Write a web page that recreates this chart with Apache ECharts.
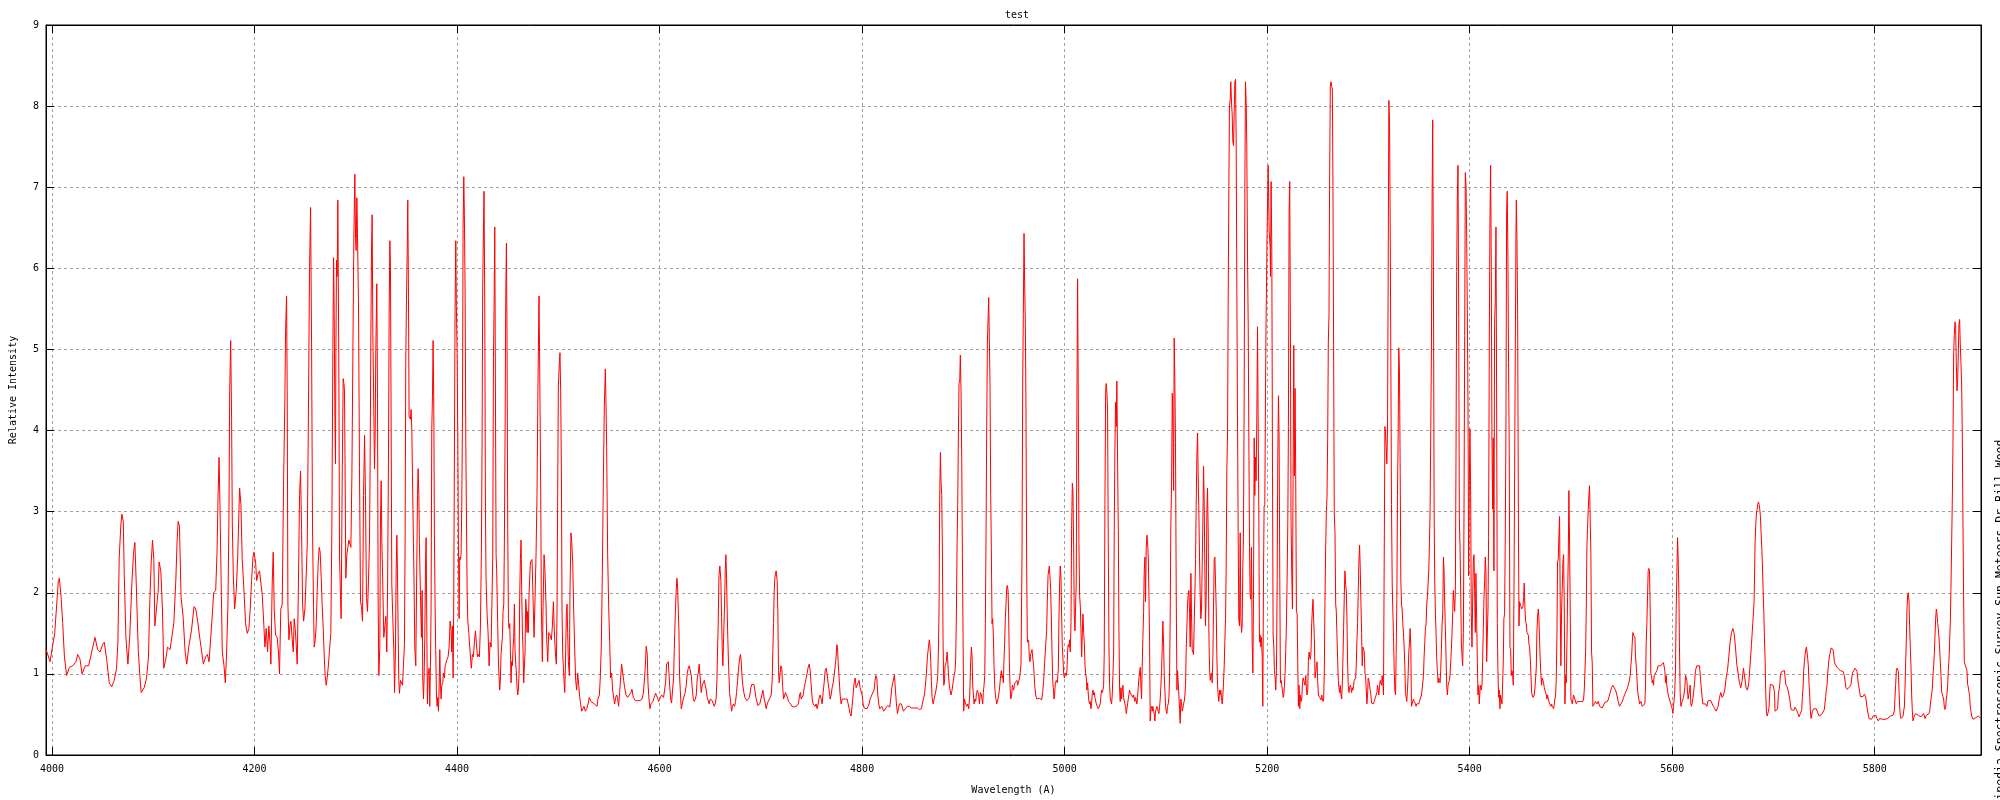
<!DOCTYPE html>
<html>
<head>
<meta charset="utf-8">
<script src="https://cdn.jsdelivr.net/npm/echarts@6/dist/echarts.min.js"></script>
<style>
html,body{margin:0;padding:0;background:#fff;}
#chart{width:2000px;height:800px;}
</style>
</head>
<body>
<div id="chart"></div>
<script>
const chartTitle = 'test';
const xAxisName = 'Wavelength (A)';
const yAxisName = 'Relative Intensity';
const sideNote = 'Wikipedia Spectroscopic Survey Sun Meteors Dr Bill Wood';
const xRange = [3994, 5905];
const yRange = [0, 9];

// [wavelength (A), relative intensity]
const seg4000 = [[3994.1,1.30],[3998.0,1.15],[4000.7,1.36],[4002.6,1.50],[4004.6,1.86],[4006.2,2.15],[4007.2,2.18],[4008.9,1.95],[4010.5,1.62],[4012.2,1.21],[4014.4,0.98],[4017.1,1.08],[4020.4,1.10],[4023.6,1.15],[4025.3,1.24],[4027.6,1.18],[4029.6,1.00],[4032.8,1.10],[4036.1,1.10],[4039.1,1.27],[4042.4,1.45],[4045.0,1.30],[4047.3,1.27],[4049.9,1.36],[4051.6,1.39],[4053.9,1.18],[4056.5,0.89],[4058.8,0.84],[4061.4,0.92],[4063.7,1.07],[4065.0,1.39],[4066.3,2.44],[4068.0,2.85],[4069.0,2.97],[4070.3,2.88],[4071.3,2.21],[4072.9,1.45],[4074.9,1.12],[4076.8,1.48],[4078.8,2.12],[4080.5,2.50],[4081.8,2.62],[4083.1,2.12],[4085.1,1.30],[4086.7,0.98],[4088.0,0.77],[4091.0,0.83],[4093.3,0.95],[4095.2,1.21],[4096.6,1.92],[4097.9,2.38],[4099.2,2.65],[4100.5,2.41],[4101.5,1.59],[4103.4,1.59],[4104.8,2.03],[4105.7,2.38],[4107.4,2.27],[4109.0,1.80],[4110.3,1.07],[4112.3,1.18],[4114.0,1.33],[4116.6,1.30],[4118.2,1.45],[4120.2,1.62],[4122.2,2.15],[4123.5,2.65],[4124.5,2.88],[4125.8,2.82],[4127.4,1.95],[4129.4,1.71],[4131.4,1.27],[4133.0,1.12],[4135.3,1.36],[4137.6,1.53],[4140.2,1.83],[4141.9,1.80],[4143.8,1.65],[4145.8,1.45],[4147.8,1.27],[4149.4,1.12],[4151.7,1.21],[4153.4,1.24],[4155.0,1.15],[4156.7,1.45],[4158.3,1.74],[4159.6,2.00],[4161.6,2.03],[4162.9,2.50],[4163.9,3.18],[4164.9,3.67],[4165.8,3.09],[4167.2,1.95],[4168.1,1.27],[4169.8,1.10],[4171.1,0.89],[4172.4,1.27],[4173.7,1.86],[4174.7,2.97],[4175.4,4.49],[4176.4,5.11],[4177.3,4.14],[4178.0,2.85],[4179.0,2.21],[4180.3,1.80],[4181.9,2.03],[4183.3,2.44],[4184.6,3.03],[4185.2,3.29],[4186.5,3.09],[4187.8,2.41],[4189.5,2.03],[4191.1,1.62],[4192.8,1.50],[4194.4,1.56],[4195.7,1.80],[4197.0,2.15],[4198.4,2.44],[4199.3,2.50],[4201.0,2.38],[4202.0,2.15],[4203.6,2.24],[4204.9,2.27],[4206.2,2.12],[4207.6,1.97],[4209.2,1.59],[4210.2,1.33],[4211.5,1.56],[4212.8,1.27],[4214.1,1.59],[4215.4,1.36],[4216.1,1.12],[4217.4,2.12],[4218.4,2.50],[4219.4,1.80],[4220.7,1.48],[4222.3,1.45],[4223.6,1.27],[4224.6,1.00],[4225.9,1.80],[4227.3,1.86],[4228.6,3.32],[4229.9,4.38]];

const seg4230 = [[4230.6,5.23],[4231.6,5.66],[4232.2,4.49],[4232.9,1.86],[4233.9,1.42],[4234.9,1.59],[4235.9,1.65],[4237.2,1.42],[4238.2,1.27],[4239.1,1.68],[4240.1,1.56],[4241.1,1.36],[4242.1,1.12],[4243.1,1.92],[4244.4,3.20],[4245.4,3.50],[4246.4,2.77],[4247.4,1.86],[4248.4,1.65],[4249.7,1.80],[4250.7,2.12],[4252.0,2.59],[4253.0,3.97],[4254.3,6.02],[4255.3,6.75],[4256.3,5.02],[4257.2,2.82],[4258.2,1.83],[4258.9,1.33],[4259.9,1.42],[4260.9,1.62],[4261.8,2.00],[4262.8,2.36],[4263.8,2.56],[4264.8,2.50],[4265.8,2.18],[4266.8,1.83],[4267.8,1.56],[4268.8,1.21],[4269.7,0.98],[4270.7,0.86],[4271.7,0.95],[4273.0,1.12],[4274.0,1.30],[4275.3,1.50],[4276.3,2.79],[4277.3,4.96],[4278.0,6.13],[4278.6,5.49],[4279.3,4.23],[4279.9,3.59],[4280.3,4.96],[4280.9,6.10],[4281.6,5.90],[4282.2,6.84],[4283.2,4.76],[4283.9,2.44],[4284.9,1.92],[4285.5,1.68],[4286.5,3.38],[4287.5,4.64],[4288.2,4.58],[4288.8,4.49],[4289.5,3.29],[4290.1,2.18],[4291.1,2.47],[4292.1,2.56],[4293.1,2.65],[4294.1,2.65],[4295.1,2.56],[4296.1,3.44],[4297.0,4.84],[4298.0,6.34],[4299.0,7.16],[4299.7,6.37],[4300.3,6.22],[4301.0,6.87],[4301.6,6.43],[4302.6,5.60],[4303.6,3.53],[4304.6,1.89],[4305.6,1.83],[4306.6,1.65],[4307.6,3.20],[4308.6,3.94],[4309.5,3.20],[4310.5,1.94],[4311.5,1.77],[4312.5,2.15],[4313.5,2.65],[4314.1,3.56],[4314.8,5.11],[4315.5,6.25],[4316.1,6.66],[4316.8,5.20],[4317.8,4.20],[4318.4,3.53],[4319.1,3.97],[4319.7,4.96],[4320.7,5.81],[4321.4,4.38],[4322.0,1.97],[4322.7,0.98],[4323.7,1.33],[4324.3,2.85],[4325.0,3.38],[4325.7,2.62],[4326.6,2.12],[4327.6,1.45],[4328.6,1.45],[4329.6,1.71],[4330.6,1.27],[4331.3,2.00],[4332.2,3.59],[4332.9,5.43],[4333.6,6.34],[4334.2,6.02],[4334.9,3.97],[4335.5,2.12],[4336.5,1.68],[4337.5,1.30],[4338.2,0.77],[4339.1,1.27],[4339.8,2.27],[4340.5,2.71],[4341.1,2.27],[4341.8,1.51],[4342.4,0.92],[4343.1,0.76],[4344.1,0.92],[4345.1,0.89],[4346.1,0.86],[4347.0,1.10],[4348.0,1.36],[4348.7,2.74],[4349.3,4.84],[4350.0,5.60],[4350.7,6.19],[4351.3,6.84],[4352.0,5.64],[4352.6,4.17],[4353.3,4.17],[4353.9,4.14],[4354.6,4.26],[4355.3,4.00],[4355.9,3.47],[4356.9,2.62],[4357.6,2.03],[4358.2,1.33],[4359.2,1.10],[4359.9,1.97],[4360.9,3.20],[4361.5,3.53],[4362.2,3.23],[4362.8,2.62],[4363.8,1.97],[4364.8,1.45],[4365.5,2.03],[4366.1,0.92],[4366.8,0.69],[4367.4,0.95],[4368.1,1.45],[4368.8,2.33],[4369.4,2.68],[4370.1,1.56],[4370.7,0.63],[4371.4,0.98],[4372.4,1.07],[4373.0,0.60],[4373.7,1.10],[4374.3,1.80],[4375.0,4.02],[4375.7,4.43],[4376.3,5.11],[4377.0,4.29],[4377.6,2.71],[4378.3,1.80],[4378.9,1.30],[4379.6,0.74],[4380.3,0.60],[4380.9,0.71],[4381.6,0.54],[4382.2,0.80],[4382.9,1.30],[4383.6,0.86],[4384.2,0.69],[4384.9,0.86],[4385.9,0.89],[4386.5,1.01],[4387.5,0.95],[4388.2,1.10],[4389.1,1.10],[4390.1,1.18],[4391.1,1.21],[4392.1,1.33],[4393.1,1.65],[4394.1,1.53],[4394.7,1.27],[4395.4,1.59],[4396.1,0.95],[4396.7,1.97],[4397.4,3.82],[4398.0,5.49],[4398.7,6.34],[4399.3,5.52],[4400.0,4.96],[4400.7,3.91],[4401.3,2.65],[4402.0,1.68],[4402.6,2.44],[4403.3,2.41],[4403.9,2.47],[4404.6,3.06],[4405.3,4.14],[4405.9,6.49],[4406.6,7.13],[4407.2,6.66],[4407.9,5.72],[4408.6,3.85],[4409.2,2.97],[4409.9,2.06],[4410.5,1.68],[4411.5,1.51],[4412.5,1.33],[4413.5,1.15],[4414.1,1.07],[4415.1,1.24],[4416.1,1.21],[4417.1,1.39],[4418.1,1.53],[4419.1,1.51],[4420.1,1.21],[4421.1,1.24],[4422.0,1.21],[4423.0,1.56],[4424.0,2.50],[4424.7,3.91],[4425.3,5.78],[4426.0,6.46],[4426.6,6.95],[4427.3,5.60],[4428.0,3.00],[4428.6,2.18],[4429.6,1.74],[4430.6,1.51],[4431.6,1.10],[4432.6,1.39],[4433.6,1.33],[4434.5,1.33],[4435.2,2.44],[4435.9,4.90],[4436.5,5.49],[4437.2,6.51],[4437.8,4.70],[4438.5,2.47],[4439.1,2.27],[4440.1,1.62],[4440.8,1.15],[4441.4,0.98],[4442.1,0.80],[4442.8,0.95],[4443.4,1.24],[4444.1,1.36],[4444.7,1.45],[4445.4,1.77],[4446.1,1.86],[4446.7,2.62],[4447.4,4.02],[4448.0,5.55],[4448.7,6.31],[4449.3,5.17],[4450.0,2.79],[4450.7,1.68],[4451.3,1.56],[4452.0,1.62],[4452.6,1.30],[4453.3,0.89],[4453.9,1.15],[4454.6,1.10],[4455.3,1.33],[4455.9,1.45],[4456.6,1.86],[4457.2,1.30],[4457.9,1.12],[4458.6,1.01],[4459.2,0.83],[4459.9,0.74],[4460.5,0.80],[4461.2,1.01],[4461.8,1.94],[4462.5,2.41],[4463.2,2.65],[4463.8,2.03],[4464.5,1.53],[4465.1,1.30],[4465.8,0.89],[4466.4,1.07],[4467.1,1.27],[4467.8,1.92],[4468.4,1.80],[4469.1,1.51],[4469.7,1.77],[4470.4,1.51],[4471.1,2.00]];

const seg4470 = [[4472.4,2.38],[4474.0,2.41],[4475.3,2.41],[4476.0,1.45],[4477.0,1.94],[4478.0,2.50],[4478.9,3.20],[4479.9,4.61],[4480.9,5.66],[4481.6,4.76],[4482.6,3.18],[4483.2,1.83],[4484.2,1.15],[4484.9,1.83],[4485.9,2.47],[4486.8,2.27],[4487.8,1.86],[4488.5,1.42],[4489.5,1.15],[4490.5,1.51],[4491.8,1.48],[4493.1,1.42],[4494.1,1.59],[4495.1,1.89],[4496.0,1.53],[4497.0,1.27],[4498.0,1.12],[4498.7,1.80],[4499.3,3.15],[4500.0,4.55],[4501.0,4.84],[4501.6,4.96],[4502.3,4.49],[4503.0,3.50],[4503.6,1.80],[4504.3,1.24],[4504.9,1.10],[4505.6,0.92],[4506.3,0.77],[4506.9,1.04],[4507.9,1.74],[4508.6,1.86],[4509.2,1.51],[4509.9,1.15],[4510.9,0.98],[4511.5,2.03],[4512.5,2.74],[4513.2,2.62],[4514.2,2.38],[4515.1,1.80],[4516.1,1.33],[4517.1,0.92],[4518.1,0.80],[4519.1,1.01],[4520.1,0.86],[4521.1,0.71],[4522.0,0.63],[4523.0,0.54],[4524.0,0.54],[4525.3,0.60],[4526.6,0.54],[4528.0,0.57],[4529.3,0.63],[4530.6,0.71],[4532.2,0.66],[4533.9,0.66],[4535.5,0.63],[4537.2,0.63],[4538.2,0.60],[4539.1,0.69],[4540.5,0.74],[4541.4,0.95],[4542.4,1.33],[4543.4,2.21],[4544.4,3.32],[4545.4,4.29],[4546.4,4.76],[4547.0,4.38],[4547.7,3.79],[4548.7,2.47],[4549.7,1.83],[4550.7,1.39],[4551.6,0.95],[4552.6,1.01],[4553.6,0.80],[4554.6,0.71],[4555.6,0.63],[4556.6,0.71],[4557.6,0.74],[4558.6,0.69],[4559.5,0.60],[4560.5,0.77],[4561.5,0.95],[4562.5,1.12],[4563.5,1.10],[4564.5,0.92],[4565.5,0.83],[4566.8,0.74],[4568.4,0.71],[4570.1,0.74],[4571.7,0.77],[4572.7,0.81],[4574.0,0.71],[4576.0,0.67],[4578.3,0.67],[4580.6,0.67],[4582.6,0.69],[4583.9,0.76],[4585.2,0.95],[4586.2,1.18],[4586.8,1.34],[4587.8,1.24],[4588.5,0.89],[4589.5,0.69],[4590.5,0.57],[4591.4,0.63],[4592.4,0.64],[4593.4,0.66],[4594.7,0.71],[4596.1,0.76],[4597.0,0.73],[4598.0,0.70],[4599.0,0.66],[4600.0,0.69],[4601.0,0.71],[4602.0,0.74],[4603.0,0.74],[4603.9,0.71],[4604.9,0.69],[4605.9,0.89],[4606.9,1.12],[4607.6,1.12],[4608.6,1.15],[4609.2,1.01],[4609.9,0.86],[4610.9,0.69],[4611.8,0.64],[4612.8,0.80],[4613.8,0.95],[4614.5,1.30],[4615.5,1.74],[4616.4,2.03],[4617.1,2.18],[4617.8,2.06],[4618.4,1.80],[4619.1,1.53],[4619.7,0.98],[4620.4,0.80],[4621.4,0.57],[4622.4,0.63],[4623.4,0.69],[4624.3,0.71],[4625.3,0.77],[4626.3,0.86],[4627.3,1.01],[4628.3,1.07],[4629.3,1.10],[4630.3,1.10],[4631.3,0.98],[4632.2,0.83],[4633.2,0.69],[4634.2,0.66],[4635.2,0.69],[4636.2,0.74],[4637.2,0.95],[4638.2,1.01],[4639.1,1.12],[4640.1,0.95],[4641.1,0.77],[4642.1,0.86],[4643.1,0.89],[4644.1,0.92],[4645.1,0.86],[4646.1,0.80],[4647.0,0.71],[4648.0,0.70],[4649.0,0.63],[4650.0,0.69],[4651.0,0.71],[4652.0,0.67],[4653.0,0.63],[4653.9,0.60],[4654.9,0.63],[4655.9,0.71],[4656.6,0.92],[4657.2,1.27],[4657.9,1.65],[4658.6,2.21],[4659.5,2.33],[4660.5,2.15],[4661.2,1.71],[4661.8,1.33],[4662.5,1.10],[4663.2,1.45],[4664.1,1.83],[4664.8,2.27],[4665.5,2.47],[4666.1,2.18],[4666.8,1.74],[4667.4,1.42],[4668.1,1.10],[4669.1,0.77],[4670.1,0.66],[4671.1,0.54],[4672.0,0.60],[4673.0,0.63],[4674.0,0.60],[4675.0,0.66],[4676.0,0.77],[4677.0,0.92],[4678.0,1.07],[4678.9,1.18],[4679.9,1.24],[4680.6,1.15],[4681.3,0.98],[4682.2,0.86],[4683.2,0.77],[4684.2,0.71],[4685.2,0.70],[4686.2,0.67],[4687.2,0.66],[4688.2,0.70],[4689.1,0.74],[4690.1,0.83],[4691.1,0.87],[4692.1,0.89],[4693.1,0.87],[4694.1,0.80],[4695.1,0.71],[4696.1,0.66],[4697.0,0.61],[4698.0,0.60],[4699.0,0.63],[4700.0,0.69],[4701.0,0.74],[4702.0,0.80],[4702.6,0.76],[4703.3,0.69],[4704.3,0.64],[4705.3,0.57],[4706.3,0.63],[4707.2,0.66],[4708.2,0.67],[4709.2,0.71],[4710.2,0.74],[4711.2,0.92],[4711.8,1.27],[4712.5,1.62],[4713.2,2.03],[4713.8,2.18],[4714.5,2.24]];

const seg4715 = [[4715.1,2.27],[4716.1,2.15],[4716.8,1.74],[4717.4,1.04],[4718.1,0.89],[4718.8,0.98],[4719.7,1.10],[4720.7,1.07],[4721.4,0.86],[4722.4,0.69],[4723.4,0.71],[4724.3,0.77],[4725.3,0.77],[4726.3,0.71],[4727.3,0.66],[4728.3,0.65],[4729.3,0.63],[4730.6,0.60],[4731.9,0.59],[4733.2,0.59],[4734.5,0.59],[4735.9,0.61],[4737.2,0.64],[4738.2,0.74],[4739.1,0.77],[4739.8,0.69],[4740.8,0.70],[4741.8,0.74],[4742.8,0.83],[4743.8,0.89],[4744.7,0.95],[4745.7,1.01],[4746.7,1.08],[4747.7,1.12],[4748.7,1.04],[4749.7,0.86],[4750.7,0.69],[4751.6,0.63],[4752.6,0.63],[4753.6,0.60],[4754.6,0.63],[4755.6,0.57],[4756.6,0.63],[4757.6,0.71],[4758.6,0.74],[4759.5,0.69],[4760.5,0.63],[4761.5,0.77],[4762.5,0.89],[4763.5,1.04],[4764.5,1.07],[4765.5,0.99],[4766.4,0.89],[4767.4,0.80],[4768.4,0.69],[4769.4,0.74],[4770.4,0.83],[4771.4,0.89],[4772.4,0.98],[4773.4,1.10],[4774.3,1.21],[4775.0,1.36],[4775.7,1.33],[4776.3,1.15],[4777.3,0.95],[4778.3,0.74],[4779.3,0.63],[4780.3,0.69],[4781.3,0.71],[4782.2,0.70],[4783.2,0.69],[4784.2,0.71],[4785.2,0.69],[4786.2,0.63],[4787.2,0.57],[4788.2,0.51],[4789.1,0.48],[4790.1,0.60],[4791.1,0.74],[4792.1,0.89],[4793.1,0.95],[4794.1,0.83],[4795.1,0.86],[4796.1,0.89],[4797.0,0.92],[4798.0,0.83],[4799.0,0.83],[4800.0,0.74],[4801.0,0.63],[4802.0,0.58],[4803.0,0.57],[4803.9,0.59],[4804.9,0.57],[4805.9,0.60],[4806.9,0.63],[4807.9,0.69],[4808.9,0.71],[4809.9,0.75],[4810.9,0.73],[4811.8,0.80],[4812.8,0.92],[4813.5,0.98],[4814.5,0.95],[4815.5,0.74],[4816.4,0.63],[4817.4,0.57],[4818.4,0.58],[4819.4,0.60],[4820.4,0.57],[4821.4,0.54],[4822.4,0.56],[4823.4,0.58],[4824.3,0.60],[4825.3,0.61],[4826.3,0.63],[4827.3,0.59],[4828.3,0.69],[4829.3,0.83],[4830.3,0.89],[4831.3,0.95],[4831.9,0.99],[4832.9,0.80],[4833.9,0.63],[4834.9,0.51],[4835.9,0.57],[4836.8,0.63],[4838.8,0.63],[4840.8,0.54],[4842.8,0.57],[4844.7,0.60],[4846.7,0.60],[4848.7,0.58],[4850.7,0.58],[4852.6,0.57],[4854.6,0.58],[4856.6,0.56],[4858.6,0.57],[4859.5,0.63],[4860.5,0.69],[4861.5,0.74],[4862.5,0.86],[4863.5,1.01],[4864.5,1.21],[4865.5,1.33],[4866.4,1.42],[4867.1,1.33],[4867.8,1.15],[4868.4,0.92],[4869.1,0.71],[4870.1,0.63],[4871.1,0.69],[4872.0,0.74],[4873.0,0.80],[4874.0,0.89],[4874.7,0.98],[4875.3,1.27],[4876.0,1.80],[4876.6,3.15],[4877.3,3.73],[4878.0,3.35],[4878.6,3.20],[4879.3,2.50],[4879.9,1.45],[4880.6,0.86],[4881.3,0.89],[4881.9,1.10],[4882.6,1.10],[4883.2,1.15],[4883.9,1.27],[4884.5,1.18],[4885.2,1.01],[4885.9,0.89],[4886.8,0.80],[4887.8,0.74],[4888.8,0.80],[4889.8,0.89],[4890.8,0.98],[4891.8,1.04],[4892.4,1.18],[4893.1,1.74],[4893.8,2.62],[4894.4,3.09],[4895.1,3.97],[4895.7,4.58],[4896.4,4.61],[4897.0,4.93],[4897.7,4.49],[4898.4,3.61],[4899.0,2.50],[4899.7,1.45],[4900.3,0.54],[4901.0,0.69],[4901.6,0.66],[4902.3,0.63],[4903.3,0.60],[4904.3,0.63],[4905.3,0.57],[4906.3,0.74],[4907.2,1.15],[4907.9,1.33],[4908.6,1.21],[4909.2,0.86],[4909.9,0.74],[4910.5,0.63],[4911.5,0.69],[4912.2,0.66],[4912.8,0.74],[4913.8,0.80],[4914.5,0.79],[4915.1,0.74],[4915.8,0.63],[4916.8,0.77],[4917.8,0.74],[4918.4,0.69],[4919.1,0.63],[4919.7,0.77],[4920.4,0.86],[4921.1,0.98],[4921.7,1.62],[4922.4,2.74],[4923.0,3.94],[4923.7,5.08],[4924.3,5.08],[4925.0,5.64],[4925.7,5.08],[4926.3,4.58],[4927.0,3.20],[4927.6,2.56],[4928.3,1.62],[4928.9,1.68],[4929.6,1.48],[4930.3,1.10],[4930.9,0.86],[4931.6,0.74],[4932.2,0.69],[4932.9,0.63],[4933.6,0.64],[4934.2,0.69],[4934.9,0.74],[4935.5,0.80],[4936.2,0.89],[4936.8,0.98],[4937.5,1.04],[4938.2,0.95],[4938.8,0.98],[4939.5,0.89],[4940.1,1.18],[4940.8,1.39],[4941.4,1.68],[4942.1,1.86],[4942.8,2.06],[4943.4,2.09],[4944.1,2.03],[4944.7,1.74],[4945.4,1.15],[4946.1,0.86],[4946.7,0.69],[4947.7,0.74],[4948.4,0.86],[4949.0,0.83],[4949.7,0.80],[4950.3,0.86],[4951.0,0.89],[4952.0,0.89],[4953.0,0.92],[4953.6,0.86],[4954.3,0.89],[4954.9,0.92],[4955.9,0.98],[4956.9,1.12]];

const seg4957 = [[4957.9,2.44],[4958.6,4.61],[4959.2,5.43],[4959.9,6.43],[4960.5,5.84],[4961.2,5.31],[4961.8,4.29],[4962.5,2.33],[4963.2,1.39],[4963.8,1.42],[4964.5,1.39],[4965.1,1.21],[4965.8,1.15],[4966.4,1.24],[4967.1,1.27],[4967.8,1.30],[4968.4,1.21],[4969.4,1.10],[4970.4,0.86],[4971.4,0.74],[4972.4,0.69],[4973.4,0.68],[4974.3,0.71],[4975.3,0.70],[4976.3,0.69],[4977.3,0.68],[4978.3,0.77],[4979.3,0.92],[4980.3,1.15],[4981.3,1.36],[4982.2,1.53],[4982.9,1.89],[4983.6,2.21],[4984.2,2.27],[4984.9,2.33],[4985.5,2.21],[4986.2,2.03],[4986.8,1.74],[4987.5,1.30],[4988.2,0.92],[4988.8,0.83],[4989.5,0.69],[4990.1,0.74],[4990.8,0.89],[4991.8,0.92],[4992.8,0.89],[4993.8,1.07],[4994.4,1.68],[4995.1,2.15],[4995.7,2.33],[4996.4,2.18],[4997.0,1.74],[4997.7,1.33],[4998.4,1.18],[4999.0,1.01],[4999.7,0.95],[5000.3,0.98],[5001.0,1.01],[5001.6,0.98],[5002.3,1.04],[5003.0,1.30],[5003.6,1.36],[5004.3,1.33],[5004.9,1.42],[5005.6,1.27],[5006.3,1.65],[5006.9,2.79],[5007.6,3.35],[5008.2,3.26],[5008.9,2.56],[5009.5,1.74],[5010.2,1.53],[5010.9,1.86],[5011.5,2.15],[5012.2,4.55],[5012.8,5.87],[5013.5,4.38],[5014.1,2.62],[5014.8,1.97],[5015.5,1.83],[5016.1,1.56],[5016.8,1.21],[5017.4,1.48],[5018.1,1.74],[5018.8,1.51],[5019.4,1.39],[5020.1,1.12],[5020.7,1.01],[5021.4,0.95],[5022.0,0.80],[5022.7,0.89],[5023.4,0.74],[5024.0,0.66],[5024.7,0.63],[5025.3,0.66],[5026.0,0.57],[5026.6,0.63],[5027.3,0.76],[5028.0,0.80],[5028.6,0.74],[5029.3,0.77],[5029.9,0.71],[5030.6,0.69],[5031.3,0.63],[5032.2,0.60],[5033.2,0.57],[5034.2,0.57],[5035.2,0.63],[5035.9,0.74],[5036.5,0.80],[5037.2,0.77],[5037.8,0.80],[5038.5,0.86],[5039.1,1.24],[5039.8,3.09],[5040.5,4.49],[5041.1,4.58],[5041.8,4.46],[5042.4,4.23],[5043.1,2.59],[5043.8,1.33],[5044.4,0.86],[5045.1,0.69],[5045.7,0.71],[5046.4,0.63],[5047.0,0.74],[5047.7,0.98],[5048.4,1.27],[5049.0,2.77],[5049.7,3.82],[5050.3,4.35],[5051.0,4.05],[5051.6,4.61],[5052.3,3.61],[5053.0,2.77],[5053.6,1.56],[5054.3,0.80],[5054.9,0.66],[5055.6,0.83],[5056.3,0.69],[5056.9,0.80],[5057.6,0.86],[5058.2,0.71],[5058.9,0.69],[5059.5,0.63],[5060.2,0.60],[5060.9,0.51],[5061.5,0.57],[5062.2,0.63],[5062.8,0.69],[5063.5,0.74],[5064.1,0.80],[5064.8,0.77],[5065.5,0.75],[5066.1,0.74],[5066.8,0.74],[5067.4,0.71],[5068.1,0.74],[5068.8,0.69],[5069.4,0.66],[5070.1,0.71],[5070.7,0.69],[5071.4,0.63],[5072.0,0.71],[5072.7,0.83],[5073.4,0.95],[5074.0,1.01],[5074.7,1.08],[5075.3,0.86],[5076.0,0.69],[5076.6,1.10],[5077.3,1.45],[5078.0,1.77],[5078.6,2.27],[5079.3,2.44],[5079.9,1.89],[5080.6,2.56],[5081.3,2.71],[5081.9,2.62],[5082.6,2.44],[5083.2,2.03],[5083.9,1.39],[5084.5,0.42],[5085.2,0.57],[5085.9,0.60],[5086.5,0.54],[5087.2,0.60],[5087.8,0.54],[5088.5,0.51],[5089.1,0.42],[5089.8,0.54],[5090.5,0.57],[5091.1,0.60],[5091.8,0.59],[5092.4,0.54],[5093.1,0.51],[5093.8,0.60],[5094.4,0.69],[5095.1,0.86],[5095.7,1.04],[5096.4,1.33],[5097.0,1.65],[5097.7,1.39],[5098.4,0.98],[5099.0,0.80],[5099.7,0.60],[5100.3,0.54],[5101.0,0.51],[5101.6,0.60],[5102.3,0.63],[5103.0,0.71],[5103.6,0.95],[5104.3,1.77],[5104.9,2.85],[5105.6,3.32],[5106.3,4.46],[5106.9,4.11],[5107.6,3.26],[5108.2,5.14],[5108.9,4.55],[5109.5,3.85],[5110.2,2.03],[5110.9,0.80],[5111.5,1.04],[5112.2,0.89],[5112.8,0.74],[5113.5,0.57],[5114.1,0.39],[5114.8,0.69],[5115.5,0.63],[5116.1,0.54],[5116.8,0.57],[5117.4,0.63],[5118.1,0.66],[5118.8,0.74],[5119.4,0.86],[5120.1,1.33],[5120.7,1.56],[5121.4,1.86],[5122.0,1.97],[5122.7,2.03],[5123.4,1.74],[5124.0,1.33],[5124.7,2.24],[5125.3,1.74],[5126.0,1.30],[5126.6,1.27],[5127.3,1.24],[5128.0,1.65],[5128.6,1.97],[5129.3,2.41],[5129.9,3.06],[5130.6,3.67],[5131.3,3.97],[5131.9,3.44],[5132.6,2.97],[5133.2,2.44],[5133.9,1.97],[5134.5,1.68],[5135.2,1.80],[5135.9,2.38],[5136.5,2.85],[5137.2,3.56],[5137.8,3.15],[5138.5,2.27],[5139.1,1.59],[5139.8,1.97],[5140.5,3.03],[5141.1,3.29],[5141.8,2.74],[5142.4,1.56],[5143.1,1.07],[5143.8,0.92],[5144.4,0.98],[5145.1,1.01],[5145.7,0.89],[5146.4,1.21],[5147.0,1.77],[5147.7,2.41],[5148.4,2.44],[5149.0,2.44],[5149.7,1.80],[5150.3,1.24],[5151.0,0.86],[5151.6,0.74],[5152.3,0.66],[5153.0,0.80],[5153.6,0.74],[5154.3,0.80],[5154.9,0.71],[5155.6,0.63],[5156.3,0.74],[5156.9,0.89],[5157.6,1.10],[5158.2,1.39],[5158.9,1.68],[5159.5,2.24],[5160.2,3.53],[5160.9,3.97],[5161.5,5.52],[5162.2,7.01],[5162.8,8.01],[5163.5,8.07],[5164.1,8.30],[5164.8,8.04],[5165.5,7.89],[5166.1,7.57],[5166.8,7.51],[5167.4,7.89],[5168.1,8.30],[5168.8,8.33],[5169.4,7.60],[5170.1,5.69],[5170.7,4.20],[5171.4,2.74],[5172.0,1.68],[5172.7,1.59],[5173.4,2.74],[5174.0,1.71],[5174.7,1.51],[5175.3,1.59],[5176.0,2.33],[5176.6,2.68],[5177.3,4.38],[5178.0,7.01],[5178.6,8.30],[5179.3,8.04],[5179.9,7.51],[5180.6,6.19],[5181.3,5.28],[5181.9,3.97],[5182.6,2.56],[5183.2,1.97],[5183.9,1.92],[5184.5,2.56],[5185.2,1.39],[5185.9,1.01],[5186.5,1.92],[5187.2,3.91],[5187.8,3.20],[5188.5,3.67],[5189.1,3.38],[5189.8,4.14],[5190.5,5.28],[5191.1,4.14],[5191.8,2.97],[5192.4,1.39],[5193.1,1.48],[5193.8,1.33],[5194.4,1.45],[5195.1,1.21],[5195.7,0.60],[5196.4,2.21],[5197.0,3.06],[5197.7,3.09]];

const seg5198 = [[5198.4,4.52],[5199.0,5.43],[5200.0,6.48],[5201.0,7.27],[5202.0,6.46],[5203.0,6.25],[5203.3,5.90],[5203.9,7.07],[5204.6,6.22],[5205.3,3.47],[5205.9,1.48],[5206.6,1.33],[5207.2,1.04],[5207.9,0.95],[5208.5,0.80],[5209.2,1.04],[5209.9,2.15],[5210.5,3.67],[5211.2,4.43],[5211.8,3.91],[5212.5,2.15],[5213.1,0.89],[5213.8,0.92],[5214.4,0.86],[5215.1,0.80],[5215.8,0.71],[5216.4,0.74],[5217.1,0.86],[5217.7,1.01],[5218.4,1.30],[5219.0,1.59],[5219.7,2.15],[5220.4,2.85],[5221.0,4.05],[5221.7,6.72],[5222.3,7.07],[5223.0,5.14],[5223.6,2.88],[5224.3,2.24],[5225.0,1.80],[5225.6,3.41],[5226.3,5.05],[5226.9,3.44],[5227.6,4.52],[5228.2,3.47],[5228.9,1.77],[5229.6,1.74],[5230.2,1.15],[5230.9,0.60],[5231.5,0.86],[5232.2,0.57],[5232.8,0.74],[5233.5,0.66],[5234.2,0.69],[5234.8,0.86],[5235.5,0.95],[5236.1,0.92],[5236.8,0.89],[5237.4,0.86],[5238.1,0.98],[5238.8,0.80],[5239.4,0.74],[5240.1,0.80],[5240.7,1.15],[5241.4,1.27],[5242.0,1.21],[5242.7,1.18],[5243.3,1.27],[5244.0,1.62],[5244.7,1.80],[5245.3,1.92],[5246.0,1.65],[5246.6,1.45],[5247.3,0.95],[5247.9,1.01],[5248.6,1.10],[5249.3,1.15],[5249.9,0.92],[5250.6,0.74],[5251.2,0.74],[5251.9,0.71],[5252.5,0.69],[5253.2,0.68],[5253.9,0.74],[5254.5,0.69],[5255.2,0.66],[5255.8,0.69],[5256.5,1.04],[5257.1,1.89],[5257.8,2.56],[5258.5,3.00],[5259.1,3.18],[5259.8,3.91],[5260.4,5.08],[5261.1,5.43],[5261.7,7.10],[5262.4,8.24],[5263.1,8.30],[5263.7,8.24],[5264.4,8.21],[5265.0,7.01],[5265.7,4.84],[5266.3,2.97],[5267.0,2.74],[5267.7,1.86],[5268.3,1.77],[5269.0,1.45],[5269.6,1.18],[5270.3,0.92],[5270.9,0.83],[5271.6,0.77],[5272.2,0.86],[5272.9,0.74],[5273.6,0.69],[5274.2,0.86],[5274.9,1.21],[5275.5,1.56],[5276.2,1.97],[5276.8,2.27],[5277.5,2.10],[5278.2,2.03],[5278.8,1.68],[5279.5,1.10],[5280.1,0.86],[5280.8,0.77],[5281.4,0.83],[5282.1,0.86],[5282.8,0.83],[5283.4,0.77],[5284.1,0.83],[5284.7,0.80],[5285.4,0.86],[5286.0,0.92],[5286.7,0.92],[5287.4,0.95],[5288.0,1.10],[5288.7,1.42],[5289.3,1.62],[5290.0,2.03],[5290.6,2.38],[5291.3,2.59],[5292.0,2.27],[5292.6,1.89],[5293.3,1.51],[5293.9,1.10],[5294.6,1.33],[5295.2,1.30],[5295.9,1.27],[5296.6,1.01],[5297.2,0.98],[5297.9,0.80],[5298.5,0.63],[5299.2,0.74],[5299.8,0.95],[5300.5,0.92],[5301.1,0.86],[5301.8,0.80],[5302.5,0.74],[5303.1,0.64],[5303.8,0.63],[5304.4,0.63],[5305.1,0.63],[5305.7,0.66],[5306.4,0.69],[5307.1,0.71],[5307.7,0.74],[5308.4,0.77],[5309.0,0.86],[5309.7,0.80],[5310.3,0.74],[5311.0,0.86],[5311.7,0.92],[5312.3,0.89],[5313.0,0.86],[5313.6,0.98],[5314.3,0.89],[5314.9,0.74],[5315.6,2.38],[5316.3,4.05],[5316.9,3.97],[5317.6,3.79],[5318.2,3.59],[5318.9,4.02],[5319.5,5.81],[5320.2,8.07],[5320.9,7.77],[5321.5,6.60],[5322.2,4.79],[5322.8,3.09],[5323.5,2.12],[5324.1,1.80],[5324.8,1.45],[5325.5,1.04],[5326.1,0.80],[5326.8,0.74],[5327.4,1.24],[5328.1,1.92],[5328.7,3.20],[5329.4,3.94],[5330.0,5.02],[5330.7,4.73],[5331.4,3.47],[5332.0,2.18],[5332.7,1.86],[5333.3,1.80],[5334.0,1.62],[5334.6,1.51],[5335.3,1.33],[5336.0,1.10],[5336.6,0.77],[5337.3,0.71],[5337.9,0.66],[5338.6,0.80],[5339.2,0.98],[5339.9,1.27],[5340.6,1.39],[5341.2,1.56],[5341.9,1.33],[5342.5,0.60],[5343.2,0.63],[5343.8,0.66],[5344.5,0.69],[5345.2,0.66],[5345.8,0.64],[5346.5,0.63],[5347.1,0.60],[5347.8,0.63],[5348.4,0.63],[5349.1,0.64],[5349.8,0.63],[5350.4,0.66],[5351.1,0.69],[5351.7,0.71],[5352.4,0.74],[5353.0,0.80],[5353.7,0.80],[5354.4,0.98],[5355.0,1.21],[5355.7,1.39],[5356.3,1.56],[5357.0,1.62],[5357.6,1.86],[5358.3,1.95],[5359.0,1.94],[5359.6,2.27],[5360.3,2.62],[5360.9,2.97],[5361.6,4.02],[5362.2,4.93],[5362.9,6.84],[5363.5,7.83],[5364.2,6.02],[5364.9,3.03],[5365.5,2.15],[5366.2,1.74],[5366.8,1.51],[5367.5,1.18],[5368.1,1.04],[5368.8,0.89],[5369.5,0.95],[5370.1,0.92],[5370.8,0.89],[5371.4,1.04],[5372.1,1.30],[5372.7,1.59],[5373.4,1.74],[5374.1,2.44],[5374.7,2.27],[5375.4,1.86],[5376.0,1.56],[5376.7,1.21],[5377.3,0.86],[5378.0,0.74],[5378.7,0.86],[5379.3,0.89],[5380.0,0.92],[5380.6,0.98],[5381.3,1.15],[5381.9,1.30],[5382.6,1.51],[5383.3,1.77],[5383.9,2.03],[5384.6,2.03],[5385.2,1.77],[5385.9,2.03],[5386.5,3.64],[5387.2,5.96],[5387.8,6.84],[5388.5,7.27],[5389.2,5.37],[5389.8,2.94],[5390.5,2.56],[5391.1,2.06],[5391.8,1.39],[5392.4,1.24],[5393.1,1.10],[5393.8,1.51],[5394.4,2.94],[5395.1,5.17],[5395.7,7.18],[5396.4,7.03],[5397.0,6.46],[5397.7,5.49],[5398.4,4.17],[5399.0,2.21],[5399.7,3.38],[5400.3,4.02],[5401.0,3.20],[5401.6,1.74],[5402.3,1.33],[5402.9,1.86],[5403.6,2.38],[5404.3,2.47],[5404.9,2.03],[5405.6,1.51],[5406.2,2.24],[5406.9,1.68],[5407.6,1.15],[5408.2,0.74],[5408.9,0.86],[5409.5,0.63],[5410.2,0.80],[5410.8,0.86],[5411.5,0.80],[5412.2,0.86],[5412.8,1.15],[5413.5,1.56],[5414.1,1.92],[5414.8,2.15],[5415.4,2.44],[5416.1,2.27],[5416.8,1.15],[5417.4,1.45],[5418.1,1.80],[5418.7,2.68],[5419.4,5.08],[5420.0,6.54],[5420.7,7.27],[5421.4,5.96],[5422.0,3.94],[5422.7,3.03],[5423.3,3.91],[5424.0,2.27],[5424.6,5.31],[5425.3,5.60],[5426.0,6.51],[5426.6,4.55],[5427.3,1.62],[5427.9,1.04],[5428.6,0.71],[5429.2,0.80],[5429.9,0.57],[5430.5,0.74],[5431.2,0.69],[5431.9,0.63],[5432.5,0.86],[5433.2,1.15],[5433.8,1.68],[5434.5,1.74],[5435.1,2.56],[5435.8,3.97],[5436.5,6.69],[5437.1,6.95],[5437.8,6.13],[5438.4,4.84],[5439.1,3.73],[5439.8,1.33]];

const seg5440 = [[5440.5,1.30],[5441.1,0.98],[5441.8,1.04],[5442.4,1.01],[5443.1,0.86],[5443.8,2.06],[5444.4,2.06],[5445.1,5.08],[5445.7,6.37],[5446.1,6.84],[5446.7,6.37],[5447.4,5.43],[5448.0,3.29],[5448.7,1.59],[5449.3,1.89],[5450.0,1.86],[5450.7,1.83],[5451.3,1.80],[5452.0,1.80],[5452.6,1.83],[5453.3,1.94],[5453.9,2.12],[5454.6,1.80],[5455.3,1.65],[5455.9,1.62],[5456.6,1.51],[5457.2,1.53],[5457.9,1.48],[5458.6,1.36],[5459.2,1.33],[5459.9,1.18],[5460.5,1.01],[5461.2,0.77],[5461.8,0.74],[5462.5,0.71],[5463.2,0.69],[5463.8,0.74],[5464.5,0.83],[5465.1,0.83],[5465.8,1.07],[5466.4,1.51],[5467.1,1.71],[5467.8,1.80],[5468.4,1.68],[5469.1,1.39],[5469.7,1.18],[5470.4,0.98],[5471.1,0.86],[5471.7,0.95],[5472.4,0.92],[5473.0,0.89],[5473.7,0.83],[5474.3,0.80],[5475.0,0.77],[5475.7,0.74],[5476.3,0.69],[5477.0,0.74],[5477.6,0.69],[5478.3,0.66],[5478.9,0.63],[5479.6,0.63],[5480.3,0.60],[5480.9,0.63],[5481.6,0.60],[5482.2,0.59],[5482.9,0.57],[5483.6,0.63],[5484.2,0.69],[5484.9,0.74],[5485.5,0.92],[5486.2,1.48],[5486.8,2.38],[5487.5,2.41],[5488.2,2.71],[5488.8,2.94],[5489.5,1.77],[5490.1,1.10],[5490.8,1.80],[5491.4,2.03],[5492.1,2.38],[5492.8,2.47],[5493.4,1.86],[5494.1,0.63],[5494.7,0.98],[5495.4,0.89],[5496.1,1.39],[5496.7,1.94],[5497.4,2.44],[5498.0,3.26],[5498.7,2.59],[5499.3,1.80],[5500.0,0.69],[5500.7,0.66],[5501.3,0.63],[5502.0,0.69],[5502.6,0.74],[5503.9,0.69],[5505.3,0.63],[5506.6,0.66],[5507.9,0.67],[5509.2,0.66],[5510.5,0.66],[5511.8,0.66],[5512.5,0.69],[5513.2,0.80],[5513.8,1.01],[5514.5,1.27],[5515.1,1.74],[5515.8,2.56],[5516.4,2.79],[5517.1,3.03],[5517.8,3.20],[5518.4,3.32],[5519.1,3.32],[5519.7,2.50],[5520.4,1.27],[5521.1,1.12],[5521.7,0.60],[5523.0,0.63],[5524.3,0.66],[5525.7,0.63],[5527.0,0.66],[5528.3,0.60],[5529.6,0.61],[5530.9,0.58],[5532.2,0.57],[5533.6,0.65],[5534.9,0.63],[5536.2,0.66],[5537.5,0.71],[5538.8,0.77],[5540.1,0.83],[5541.4,0.86],[5542.8,0.86],[5544.1,0.80],[5545.4,0.74],[5546.7,0.66],[5548.0,0.60],[5549.3,0.61],[5550.7,0.66],[5552.0,0.71],[5553.3,0.75],[5554.6,0.77],[5555.9,0.83],[5557.2,0.89],[5558.6,0.98],[5559.2,1.10],[5559.9,1.21],[5560.5,1.36],[5561.2,1.51],[5561.8,1.48],[5562.5,1.48],[5563.2,1.45],[5563.8,1.21],[5564.5,1.10],[5565.1,0.98],[5565.8,0.80],[5566.4,0.74],[5567.1,0.69],[5567.8,0.63],[5569.1,0.66],[5570.4,0.60],[5571.7,0.60],[5573.0,0.63],[5573.7,0.86],[5574.3,1.36],[5575.0,1.62],[5575.7,1.97],[5576.3,2.27],[5577.0,2.30],[5577.6,2.27],[5578.3,1.80],[5578.9,1.01],[5579.6,0.98],[5580.3,0.89],[5580.9,0.92],[5581.6,0.86],[5582.2,0.98],[5583.6,1.01],[5584.9,1.04],[5586.2,1.10],[5587.5,1.10],[5588.8,1.10],[5590.1,1.10],[5591.4,1.14],[5592.1,1.15],[5592.8,1.04],[5593.4,0.89],[5594.1,0.98],[5594.7,0.86],[5595.4,0.80],[5596.1,0.74],[5596.7,0.71],[5597.4,0.69],[5598.0,0.66],[5598.7,0.63],[5599.3,0.60],[5600.0,0.57],[5600.7,0.51],[5601.3,0.60],[5602.0,0.69],[5602.6,0.80],[5603.3,1.07],[5603.9,1.74],[5604.6,2.18],[5605.3,2.68],[5605.9,2.44],[5606.6,2.03],[5607.2,1.33],[5607.9,0.77],[5608.6,0.60],[5609.9,0.66],[5611.2,0.71],[5612.5,0.83],[5613.2,0.98],[5613.8,0.99],[5614.5,0.92],[5615.1,0.80],[5615.8,0.69],[5616.4,0.74],[5617.1,0.80],[5617.8,0.86],[5618.4,0.63],[5619.1,0.60],[5620.4,0.69],[5621.7,0.83],[5623.0,1.04],[5624.3,1.10],[5625.7,1.12],[5627.0,1.10],[5628.3,0.89],[5629.6,0.71],[5630.3,0.63],[5631.6,0.62],[5632.9,0.63],[5634.2,0.60],[5635.5,0.67],[5636.8,0.69],[5638.2,0.67],[5639.5,0.63],[5640.8,0.60],[5642.1,0.57],[5643.4,0.54],[5644.1,0.52],[5645.4,0.60],[5646.7,0.71],[5648.0,0.77],[5649.3,0.71],[5650.7,0.74],[5652.0,0.80],[5653.3,0.95],[5654.6,1.04],[5655.9,1.21],[5657.2,1.39],[5658.6,1.51],[5659.9,1.56],[5661.2,1.50],[5662.5,1.33],[5663.8,1.12],[5665.1,1.01],[5666.4,0.89],[5667.8,0.83],[5669.1,0.92],[5670.4,1.07],[5671.7,0.95],[5673.0,0.83],[5674.3,0.80],[5675.7,0.89],[5677.0,1.12],[5678.3,1.36],[5679.6,1.62],[5680.9,1.89]];

const seg5682 = [[5681.9,2.62],[5682.6,2.85],[5683.2,2.97],[5683.9,3.03],[5684.5,3.09],[5685.2,3.12],[5685.9,3.09],[5686.5,3.03],[5687.2,2.94],[5687.8,2.74],[5688.5,2.56],[5689.1,2.36],[5689.8,2.03],[5690.5,1.77],[5691.1,1.45],[5691.8,1.18],[5692.4,0.78],[5693.1,0.54],[5693.8,0.48],[5694.4,0.51],[5695.1,0.54],[5695.7,0.59],[5696.4,0.78],[5697.0,0.87],[5698.4,0.87],[5699.7,0.86],[5700.3,0.84],[5701.0,0.78],[5701.6,0.54],[5702.3,0.53],[5703.0,0.54],[5703.6,0.56],[5704.3,0.59],[5704.9,0.75],[5705.6,0.81],[5706.3,0.87],[5706.9,0.99],[5708.2,1.03],[5709.5,1.01],[5710.9,1.04],[5712.2,0.87],[5713.5,0.84],[5714.8,0.78],[5716.1,0.69],[5717.4,0.56],[5718.8,0.56],[5720.1,0.55],[5721.4,0.59],[5722.7,0.56],[5724.0,0.52],[5725.3,0.47],[5726.6,0.51],[5728.0,0.56],[5728.6,0.72],[5729.3,0.84],[5729.9,1.04],[5730.6,1.15],[5731.3,1.24],[5731.9,1.30],[5732.6,1.33],[5733.2,1.27],[5733.9,1.18],[5734.5,1.10],[5735.2,0.87],[5735.9,0.72],[5736.5,0.54],[5737.2,0.45],[5738.5,0.54],[5739.8,0.57],[5741.1,0.59],[5742.4,0.57],[5743.8,0.52],[5745.1,0.48],[5746.4,0.49],[5747.7,0.50],[5749.0,0.52],[5750.3,0.56],[5751.6,0.72],[5752.3,0.81],[5753.0,0.87],[5753.6,1.01],[5754.3,1.10],[5754.9,1.18],[5755.6,1.24],[5756.3,1.27],[5756.9,1.32],[5757.6,1.34],[5758.2,1.34],[5758.9,1.30],[5759.5,1.24],[5760.2,1.15],[5760.9,1.12],[5762.2,1.10],[5763.5,1.07],[5764.8,1.05],[5766.1,1.04],[5767.4,1.05],[5768.8,1.03],[5770.1,0.98],[5771.4,0.84],[5772.7,0.81],[5774.0,0.80],[5775.3,0.84],[5776.6,0.87],[5778.0,1.01],[5779.3,1.04],[5780.6,1.07],[5781.3,1.07],[5782.6,1.03],[5783.9,0.87],[5785.2,0.78],[5785.9,0.72],[5787.2,0.73],[5788.5,0.72],[5789.8,0.75],[5791.1,0.72],[5792.4,0.59],[5793.8,0.49],[5794.4,0.45],[5795.7,0.44],[5797.0,0.44],[5798.4,0.48],[5799.7,0.48],[5801.0,0.49],[5802.3,0.45],[5803.6,0.42],[5804.9,0.45],[5806.3,0.45],[5807.6,0.44],[5808.9,0.45],[5810.2,0.44],[5811.5,0.44],[5812.8,0.45],[5814.1,0.46],[5815.5,0.48],[5816.8,0.48],[5818.1,0.49],[5818.8,0.51],[5819.4,0.54],[5820.1,0.72],[5820.7,0.87],[5821.4,1.04],[5822.0,1.07],[5822.7,1.07],[5823.4,1.03],[5824.0,0.81],[5824.7,0.59],[5825.3,0.48],[5826.0,0.45],[5826.6,0.45],[5827.3,0.45],[5828.0,0.48],[5828.6,0.54],[5829.3,0.59],[5829.9,0.81],[5830.6,1.15],[5831.3,1.45],[5831.9,1.80],[5832.6,1.97],[5833.2,2.00],[5833.9,1.89],[5834.5,1.59],[5835.2,1.33],[5835.9,1.07],[5836.5,0.75],[5837.2,0.54],[5837.8,0.42],[5839.1,0.48],[5840.5,0.51],[5841.8,0.51],[5843.1,0.49],[5844.4,0.49],[5845.7,0.47],[5847.0,0.48],[5848.4,0.51],[5849.7,0.45],[5851.0,0.49],[5852.3,0.48],[5853.6,0.51],[5854.3,0.54],[5854.9,0.56],[5855.6,0.69],[5856.3,0.75],[5856.9,0.81],[5857.6,0.98],[5858.2,1.10],[5858.9,1.24],[5859.5,1.45],[5860.2,1.68],[5860.9,1.80],[5861.5,1.74],[5862.2,1.62],[5862.8,1.56],[5863.5,1.45],[5864.1,1.33],[5864.8,1.15],[5865.5,0.98],[5866.1,0.78],[5866.8,0.75],[5867.4,0.72],[5868.1,0.69],[5868.8,0.59],[5869.4,0.56],[5870.1,0.59],[5870.7,0.69],[5871.4,0.75],[5872.0,0.84],[5872.7,1.04],[5873.4,1.18],[5874.0,1.39],[5874.7,1.65],[5875.3,2.03],[5876.0,2.59],[5876.6,3.09],[5877.3,3.79],[5878.0,4.96],[5878.6,5.17],[5879.3,5.34],[5879.9,5.31],[5880.6,4.84],[5881.3,4.49],[5881.9,4.61],[5882.6,4.96],[5883.2,5.31],[5883.9,5.37],[5884.5,5.08],[5885.2,4.84],[5885.9,4.55],[5886.5,3.97],[5887.2,2.85],[5887.8,1.97],[5888.5,1.15],[5889.1,1.12],[5889.8,1.10],[5890.5,1.07],[5891.1,1.04],[5891.8,0.87],[5892.4,0.84],[5893.1,0.78],[5893.8,0.72],[5894.4,0.59],[5895.1,0.54],[5895.8,0.48],[5897.1,0.44],[5898.4,0.45],[5899.7,0.46],[5901.0,0.45],[5902.3,0.48],[5903.6,0.48],[5904.9,0.45]];

const spectrum = [].concat(seg4000, seg4230, seg4470, seg4715, seg4957, seg5198, seg5440, seg5682);

const FONT = '"DejaVu Sans Mono", "Liberation Mono", monospace';
const gridLine = { show: true, lineStyle: { color: '#a0a0a0', width: 1, type: [3, 3] } };
const blackLine = { show: true, onZero: false, lineStyle: { color: '#000', width: 1 } };
const inTick = { show: true, inside: true, length: 8, lineStyle: { color: '#000', width: 1 } };
const plainNumber = (v) => String(v);

const chart = echarts.init(document.getElementById('chart'), null, { renderer: 'canvas' });
chart.setOption({
  animation: false,
  backgroundColor: '#fff',
  title: {
    text: chartTitle, left: 1012, top: 5, textAlign: 'center',
    textStyle: { fontFamily: FONT, fontSize: 10, fontWeight: 'normal', color: '#000' }
  },
  grid: { left: 43, right: 19, top: 25, bottom: 40, containLabel: false,
          show: true, borderColor: '#000', borderWidth: 1 },
  xAxis: [
    { type: 'value', position: 'bottom', min: xRange[0], max: xRange[1],
      splitNumber: 10, minInterval: 200, maxInterval: 200,
      name: xAxisName, nameLocation: 'middle', nameGap: 30,
      nameTextStyle: { fontFamily: FONT, fontSize: 10, color: '#000' },
      axisLine: blackLine, axisTick: inTick, splitLine: gridLine,
      axisLabel: { fontFamily: FONT, fontSize: 10, color: '#000', margin: 9,
                   formatter: plainNumber, showMinLabel: false, showMaxLabel: false } },
    { type: 'value', position: 'top', min: xRange[0], max: xRange[1],
      splitNumber: 10, minInterval: 200, maxInterval: 200,
      axisLine: blackLine, axisTick: inTick, splitLine: { show: false },
      axisLabel: { show: false } }
  ],
  yAxis: [
    { type: 'value', position: 'left', min: yRange[0], max: yRange[1], interval: 1,
      name: yAxisName, nameLocation: 'middle', nameGap: 28, nameRotate: 90,
      nameTextStyle: { fontFamily: FONT, fontSize: 10, color: '#000' },
      axisLine: blackLine, axisTick: inTick, splitLine: gridLine,
      axisLabel: { fontFamily: FONT, fontSize: 10, color: '#000', margin: 7, formatter: plainNumber } },
    { type: 'value', position: 'right', min: yRange[0], max: yRange[1], interval: 1,
      axisLine: blackLine, axisTick: inTick, splitLine: { show: false },
      axisLabel: { show: false } }
  ],
  series: [{
    type: 'line', xAxisIndex: 0, yAxisIndex: 0, data: spectrum,
    showSymbol: false, symbol: 'none', smooth: false,
    lineStyle: { color: '#ff0000', width: 1 }, itemStyle: { color: '#ff0000' },
    emphasis: { disabled: true }, clip: true
  }],
  graphic: [{
    type: 'text', x: 2001, y: 630, rotation: Math.PI / 2, silent: true,
    style: { text: sideNote, fill: '#000', fontFamily: FONT, fontSize: 11.5,
             align: 'center', verticalAlign: 'middle' }
  }]
});
</script>
</body>
</html>
